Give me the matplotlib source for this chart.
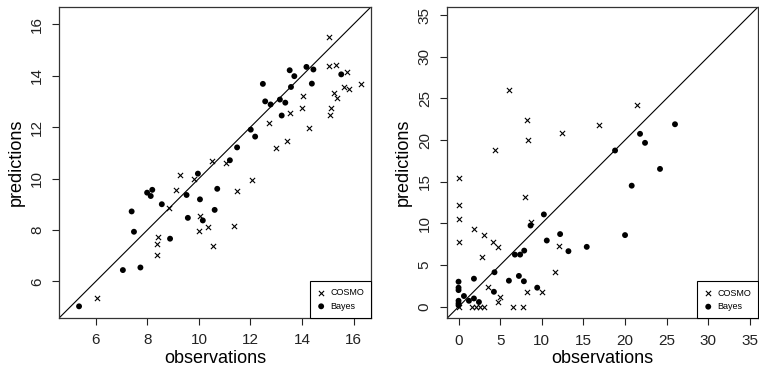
import numpy as np
import matplotlib.pyplot as plt

plt.rcParams['font.family'] = ['Liberation Sans', 'DejaVu Sans']

# left panel: COSMO (x markers) and Bayes (dots)
cosmo1_obs = [6.05, 8.84, 8.42, 8.36, 8.36, 9.10, 9.27, 9.80, 10.04, 10.37, 10.02,
              12.06, 11.47, 11.35, 10.54, 15.06, 15.04, 15.30, 15.74, 15.61, 15.83,
              16.28, 15.22, 15.36, 15.14, 15.08, 14.26, 14.05, 13.99, 13.53, 13.43,
              12.97, 12.71, 11.05, 10.52]
cosmo1_pred = [5.35, 8.86, 7.71, 7.47, 7.03, 9.54, 10.14, 10.00, 8.56, 8.12, 7.97,
               9.95, 9.50, 8.17, 7.38, 15.51, 14.37, 14.42, 14.15, 13.54, 13.49,
               13.67, 13.32, 13.12, 12.76, 12.46, 11.98, 13.19, 12.76, 12.54, 11.46,
               11.19, 12.16, 10.61, 10.70]
bayes1_obs = [5.35, 7.05, 7.73, 7.39, 7.48, 7.99, 8.13, 8.19, 8.56, 8.88, 9.96,
              9.52, 10.04, 9.57, 10.15, 10.71, 10.61, 15.52, 14.17, 14.44, 14.38,
              13.52, 13.70, 13.57, 12.48, 12.57, 12.78, 13.14, 13.35, 13.21, 12.01,
              12.18, 11.48, 11.20]
bayes1_pred = [5.03, 6.44, 6.54, 8.72, 7.93, 9.45, 9.32, 9.56, 9.00, 7.66, 10.19,
               9.36, 9.19, 8.47, 8.37, 9.60, 8.78, 14.05, 14.34, 14.24, 13.69,
               14.21, 13.98, 13.56, 13.68, 13.00, 12.88, 13.07, 12.95, 12.45, 11.90,
               11.63, 11.21, 10.71]

# right panel
cosmo2_obs = [0.0, 6.05, 4.4, 8.28, 8.33, 12.45, 21.49, 16.89, 0.0, 0.0, 0.0,
              1.8, 3.08, 2.8, 4.13, 4.8, 7.93, 8.73, 12.1, 11.6, 3.53, 5.0, 4.8,
              8.28, 10.08, 0.0, 1.6, 2.1, 2.57, 3.05, 6.53, 7.8]
cosmo2_pred = [15.4, 26.0, 18.8, 22.4, 20.0, 20.8, 24.16, 21.8, 12.24, 10.56, 7.8,
               9.35, 8.6, 6.0, 7.8, 7.2, 13.2, 10.16, 7.35, 4.2, 2.41, 1.2, 0.57,
               1.8, 1.8, 0.0, 0.0, 0.0, 0.0, 0.0, 0.0, 0.0]
bayes2_obs = [26.0, 21.8, 22.4, 18.8, 24.2, 20.8, 20.0, 15.4, 0.0, 0.0, 0.0, 0.0,
              0.0, 0.0, 0.65, 1.25, 1.85, 1.85, 2.45, 4.32, 4.25, 6.05, 6.77, 7.4,
              7.89, 7.25, 7.85, 9.45, 8.65, 10.25, 10.6, 12.2, 13.2]
bayes2_pred = [21.9, 20.75, 19.67, 18.75, 16.54, 14.53, 8.6, 7.19, 3.01, 2.29, 2.0,
               0.72, 0.41, 0.17, 1.29, 0.72, 1.0, 3.37, 0.57, 4.14, 1.8, 3.13, 6.26,
               6.26, 6.74, 3.7, 3.06, 2.29, 9.75, 11.08, 7.95, 8.72, 6.67]

panels = [
    (cosmo1_obs, cosmo1_pred, bayes1_obs, bayes1_pred, (4.58, 16.68), [6, 8, 10, 12, 14, 16]),
    (cosmo2_obs, cosmo2_pred, bayes2_obs, bayes2_pred, (-1.38, 36.0), [0, 5, 10, 15, 20, 25, 30, 35]),
]
positions = [[0.078, 0.150, 0.411, 0.832], [0.589, 0.149, 0.410, 0.833]]

fig = plt.figure(figsize=(7.59, 3.74), dpi=100)

for (co, cp, bo, bp, lim, ticks), pos in zip(panels, positions):
    ax = fig.add_axes(pos)
    ax.axline((0, 0), slope=1, color='black', lw=0.8, zorder=1)
    ax.scatter(co, cp, marker='x', s=14, color='black', linewidths=0.8, label='COSMO', zorder=2)
    ax.scatter(bo, bp, marker='o', s=18, color='black', edgecolors='none', label='Bayes', zorder=3)
    ax.set_xlim(lim)
    ax.set_ylim(lim)
    ax.set_xticks(ticks)
    ax.set_yticks(ticks)
    ax.tick_params(direction='out', length=5, width=0.8, labelsize=11, pad=6, colors='#222222')
    for lab in ax.get_yticklabels():
        lab.set_rotation(90)
        lab.set_va('center')
    for sp in ax.spines.values():
        sp.set_linewidth(0.9)
        sp.set_color('#333333')
    ax.set_xlabel('observations', fontsize=13, labelpad=2)
    ax.set_ylabel('predictions', fontsize=13, labelpad=4)
    leg = ax.legend(loc='lower right', borderaxespad=0, fancybox=False, edgecolor='black',
                    framealpha=1, fontsize=6.5, handlelength=0.8, handletextpad=0.6,
                    borderpad=0.8, labelspacing=0.5, scatterpoints=1)
    leg.get_frame().set_linewidth(0.8)

fig.savefig('out.png', dpi=100)
